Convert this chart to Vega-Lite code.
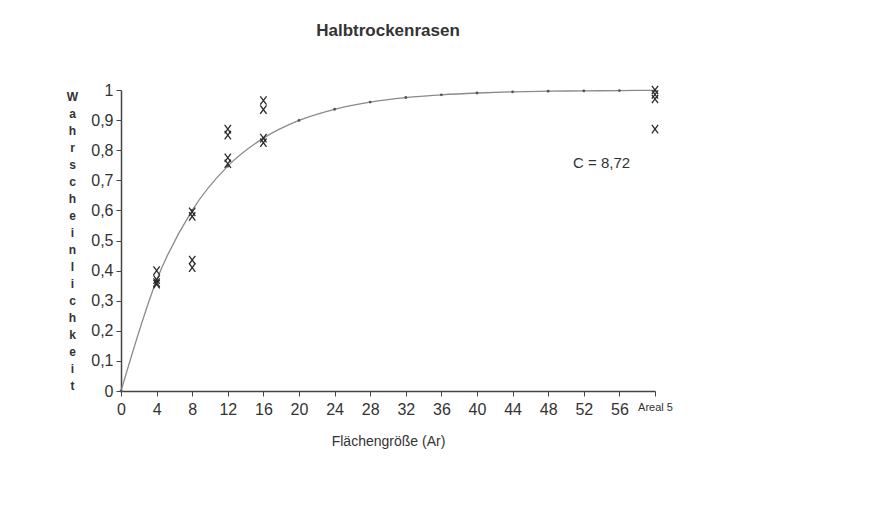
{
  "$schema": "https://vega.github.io/schema/vega-lite/v6.json",
  "width": 534,
  "height": 301,
  "autosize": {"type": "none"},
  "padding": {"left": 121, "top": 90, "right": 240, "bottom": 114},
  "background": "white",
  "config": {
    "view": {"stroke": null},
    "font": "Liberation Sans",
    "axis": {"grid": false, "domainColor": "#444", "tickColor": "#444", "labelColor": "#333", "titleColor": "#333", "labelFont": "Liberation Sans", "titleFont": "Liberation Sans", "domainWidth": 1.5, "labelOverlap": false, "labelFlush": false}
  },
  "title": {"text": "Halbtrockenrasen", "fontSize": 17, "fontWeight": "bold", "color": "#333", "anchor": "middle", "offset": 42, "font": "Liberation Sans"},
  "datasets": {
    "curve": [
      {"x": 0, "y": 0}, {"x": 4, "y": 0.368}, {"x": 8, "y": 0.6}, {"x": 12, "y": 0.747},
      {"x": 16, "y": 0.84}, {"x": 20, "y": 0.899}, {"x": 24, "y": 0.936}, {"x": 28, "y": 0.96},
      {"x": 32, "y": 0.975}, {"x": 36, "y": 0.984}, {"x": 40, "y": 0.99}, {"x": 44, "y": 0.994},
      {"x": 48, "y": 0.996}, {"x": 52, "y": 0.997}, {"x": 56, "y": 0.998}, {"x": 60, "y": 0.999}
    ],
    "obs": [
      {"x": 4, "y": 0.4}, {"x": 4, "y": 0.37}, {"x": 4, "y": 0.36}, {"x": 4, "y": 0.355},
      {"x": 8, "y": 0.595}, {"x": 8, "y": 0.58}, {"x": 8, "y": 0.435}, {"x": 8, "y": 0.41},
      {"x": 12, "y": 0.87}, {"x": 12, "y": 0.85}, {"x": 12, "y": 0.775}, {"x": 12, "y": 0.755},
      {"x": 16, "y": 0.965}, {"x": 16, "y": 0.935}, {"x": 16, "y": 0.84}, {"x": 16, "y": 0.825},
      {"x": 60, "y": 1.0}, {"x": 60, "y": 0.985}, {"x": 60, "y": 0.97}, {"x": 60, "y": 0.87}
    ],
    "note": [{"x": 54, "y": 0.757, "label": "C = 8,72"}]
  },
  "encoding": {
    "x": {"field": "x", "type": "quantitative", "scale": {"domain": [0, 60], "nice": false},
      "axis": {"values": [0, 4, 8, 12, 16, 20, 24, 28, 32, 36, 40, 44, 48, 52, 56, 60],
        "labelExpr": "datum.value == 60 ? 'Areal 5' : datum.label",
        "labelFontSize": {"condition": {"test": "datum.value == 60", "value": 11}, "value": 16},
        "labelPadding": 5, "tickSize": 5,
        "title": "Flächengröße (Ar)", "titleFontSize": 14, "titleFontWeight": "normal", "titlePadding": 17}},
    "y": {"field": "y", "type": "quantitative", "scale": {"domain": [0, 1], "nice": false},
      "axis": {"values": [0, 0.1, 0.2, 0.3, 0.4, 0.5, 0.6, 0.7, 0.8, 0.9, 1],
        "labelExpr": "replace(format(datum.value, '.1~f'), '.', ',')",
        "labelFontSize": 16, "labelPadding": 3, "tickSize": 5,
        "title": ["W","a","h","r","s","c","h","e","i","n","l","i","c","h","k","e","i","t"],
        "titleAngle": 0, "titleAlign": "center", "titleBaseline": "top", "titleX": -49, "titleY": 1,
        "titleFontSize": 12, "titleFontWeight": "bold", "titleLineHeight": 17}}
  },
  "layer": [
    {
      "data": {"name": "curve"},
      "mark": {"type": "line", "color": "#8a8a8a", "strokeWidth": 1.3, "interpolate": "monotone", "point": {"filled": true, "size": 8, "color": "#555"}}
    },
    {
      "data": {"name": "obs"},
      "mark": {"type": "point", "shape": "M-0.75,-1L0.75,1M-0.75,1L0.75,-1", "size": 70, "strokeWidth": 1.3, "color": "#2a2a2a", "filled": false, "opacity": 1}
    },
    {
      "data": {"name": "note"},
      "mark": {"type": "text", "fontSize": 15, "color": "#333", "align": "center", "baseline": "middle"},
      "encoding": {"text": {"field": "label"}}
    }
  ]
}
